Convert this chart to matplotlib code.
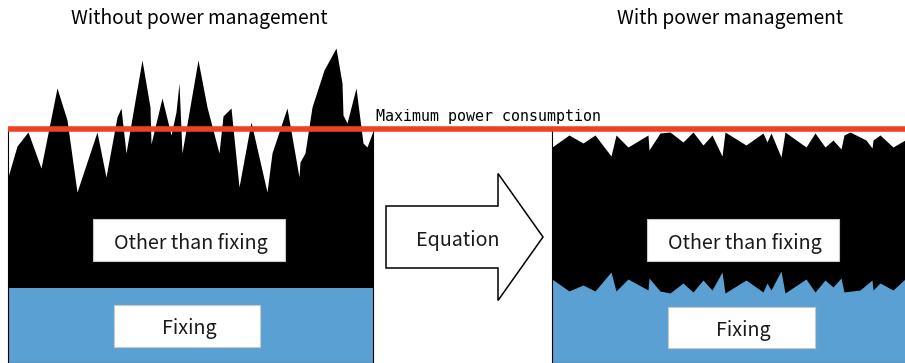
import numpy as np
import matplotlib
matplotlib.use('Agg')
import matplotlib.pyplot as plt
from matplotlib.patches import Rectangle, FancyArrow

# power demand over time, left panel (no power management)
left_t = [0, 9, 20, 33, 49, 59, 69, 89, 98, 109, 113, 118, 134, 142, 143, 154, 163,
          168, 171, 174, 190, 199, 211, 215, 223, 231, 243, 259, 264, 279, 291, 292,
          297, 304, 316, 328, 334, 335, 339, 348, 355, 359, 365]
left_power = [186, 217, 231, 195, 275, 243, 171, 231, 186, 246, 255, 210, 303, 256,
              219, 265, 228, 251, 280, 210, 303, 256, 210, 247, 255, 176, 241, 171,
              210, 255, 186, 201, 210, 256, 293, 315, 280, 248, 240, 275, 220, 216, 232]
left_fixing = 75

# right panel (with power management)
right_t = [0, 17, 31, 43, 59, 64, 76, 96, 97, 108, 118, 131, 141, 151, 160, 170, 173,
           194, 211, 215, 219, 229, 233, 254, 263, 273, 281, 289, 292, 298, 314, 320,
           321, 328, 341, 353]
right_power = [216, 228, 220, 228, 207, 228, 216, 228, 213, 230, 231, 221, 231, 218,
               228, 207, 231, 218, 230, 221, 230, 206, 231, 216, 230, 216, 223, 214,
               228, 231, 223, 215, 223, 228, 216, 223]
right_fix_t = [0, 17, 31, 43, 59, 64, 76, 96, 97, 108, 118, 131, 141, 151, 160, 170,
               173, 194, 211, 215, 219, 229, 233, 254, 263, 273, 281, 289, 292, 308,
               320, 321, 328, 341, 353]
right_fixing = [84, 72, 78, 72, 91, 72, 84, 73, 85, 72, 70, 80, 71, 83, 73, 91, 70,
                83, 71, 80, 73, 92, 70, 84, 71, 83, 76, 85, 71, 73, 83, 73, 80, 73, 84]
max_power = 234.5

titles = ['Without power management', 'With power management']
label_other = 'Other than fixing'
label_fixing = 'Fixing'
label_max = 'Maximum power consumption'
label_arrow = 'Equation'

BLUE = '#5ba0d3'
RED = '#ef4123'
JP = ['Noto Sans CJK JP', 'DejaVu Sans']

fig = plt.figure(figsize=(9.05, 3.63), dpi=100)
ax = fig.add_axes([0, 0, 1, 1])
ax.set_xlim(0, 905)
ax.set_ylim(0, 363)
ax.axis('off')

x0_left, x1_left = 8, 373
x0_right, x1_right = 552, 906

# left panel
lt = np.array(left_t) + x0_left
ax.fill_between(lt, 0, left_power, color='black', lw=0, zorder=1)
ax.fill_between([x0_left, x1_left], 0, left_fixing, color=BLUE, lw=0, zorder=2)
ax.add_patch(Rectangle((x0_left, 0), x1_left - x0_left, max_power, fill=False,
                       ec='black', lw=0.8, zorder=3))

# right panel
rt = np.array(right_t) + x0_right
ax.fill_between(rt, 0, right_power, color='black', lw=0, zorder=1)
rft = np.array(right_fix_t) + x0_right
ax.fill_between(rft, 0, right_fixing, color=BLUE, lw=0, zorder=2)
ax.add_patch(Rectangle((x0_right, 0), x1_right - x0_right, max_power, fill=False,
                       ec='black', lw=0.8, zorder=3))

# maximum power line
ax.plot([x0_left, 905], [max_power, max_power], color=RED, lw=4, solid_capstyle='butt', zorder=5)
ax.text(376, 241.5, label_max, family='DejaVu Sans Mono', fontsize=10.8,
        ha='left', va='baseline', zorder=6)

# label boxes
def label_box(cx, cy, w, h, txt, base):
    ax.add_patch(Rectangle((cx - w / 2, cy - h / 2), w, h, fc='white', ec='#c8c8c8',
                           lw=0.8, zorder=6))
    ax.text(cx + 2, base, txt, family=JP, fontsize=14.2, ha='center', va='baseline',
            color='#1a1a1a', zorder=7)

label_box(189, 123, 192, 42, label_other, 114.5)
label_box(187, 37, 146, 42, label_fixing, 29)
label_box(743, 123, 192, 42, label_other, 114.5)
label_box(741.5, 35.5, 147, 41, label_fixing, 27)

# arrow
ax.add_patch(FancyArrow(386, 126, 157, 0, width=62, head_width=127, head_length=45,
                        length_includes_head=True, fc='white', ec='black', lw=1.1,
                        zorder=4))
ax.text(458, 117.3, label_arrow, family=JP, fontsize=14.2, ha='center', va='baseline',
        color='#1a1a1a', zorder=6)

# titles
ax.text(199, 339, titles[0], family=JP, fontsize=13.8, ha='center', va='baseline')
ax.text(730, 339, titles[1], family=JP, fontsize=13.8, ha='center', va='baseline')

fig.savefig('out.png', dpi=100)
